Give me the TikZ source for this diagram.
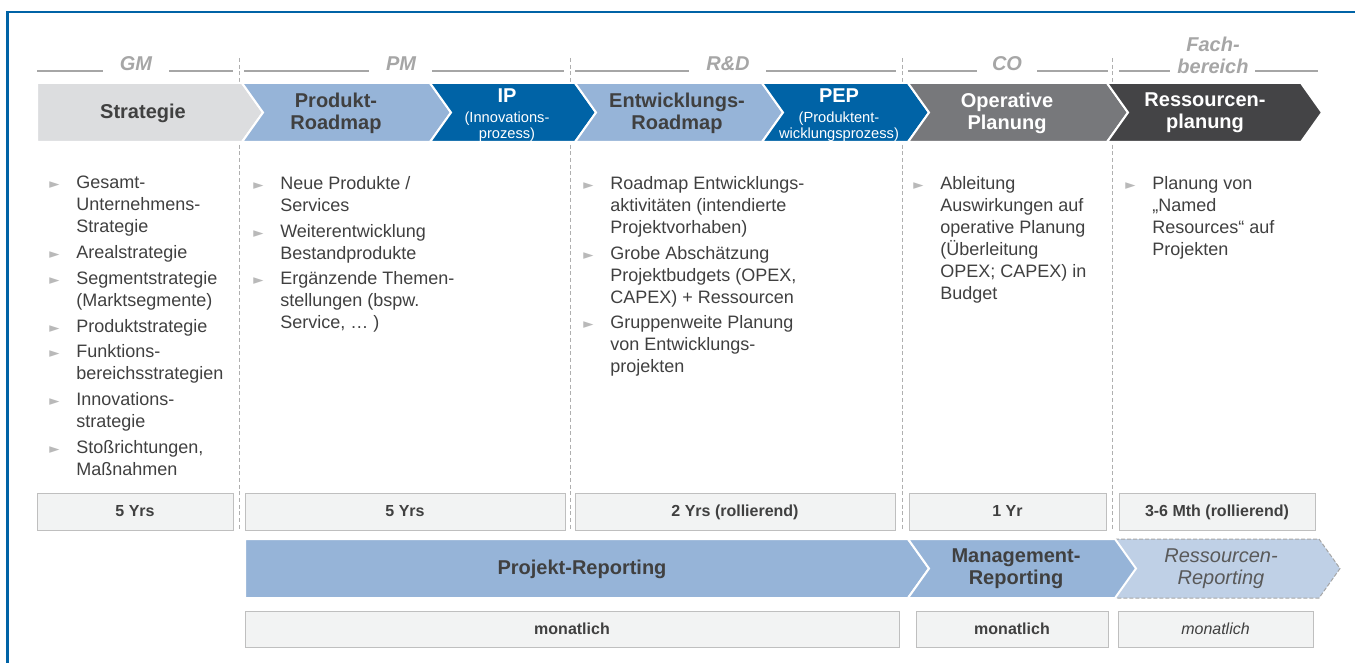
\documentclass[tikz,border=0pt]{standalone}
\usepackage{fontspec}
\setmainfont{Liberation Sans}
\newfontfamily\symfont{DejaVu Sans}
\usepackage{xcolor}
\usetikzlibrary{positioning,fit}
\definecolor{frameblue}{RGB}{0,99,166}
\definecolor{darkblue}{RGB}{0,99,166}
\definecolor{lightblue}{RGB}{150,180,216}
\definecolor{paleblue}{RGB}{191,208,230}
\definecolor{stratgray}{RGB}{220,221,223}
\definecolor{opgray}{RGB}{119,120,123}
\definecolor{resgray}{RGB}{68,68,70}
\definecolor{txtgray}{RGB}{64,64,64}
\definecolor{midtxt}{RGB}{89,89,89}
\definecolor{grpgray}{RGB}{166,166,166}
\definecolor{bulgray}{RGB}{185,185,185}
\definecolor{boxfill}{RGB}{242,243,243}
\definecolor{boxline}{RGB}{191,191,191}
\definecolor{sepgray}{RGB}{175,175,175}
\tikzset{
  chev/.style    = {fill=#1, draw=white, line width=1.5pt},
  chevtxt/.style = {align=center, inner sep=0, font=\fontsize{15}{16.5}\selectfont\bfseries, text=txtgray},
  chevwht/.style = {chevtxt, text=white},
  grpline/.style = {draw=grpgray, line width=2pt},
  grplbl/.style  = {align=center, inner sep=0, font=\fontsize{15}{16.5}\selectfont\bfseries\itshape, text=grpgray},
  colsep/.style  = {draw=sepgray, dash pattern=on 3pt off 2pt, line width=0.5pt},
  col/.style     = {anchor=north west, align=left, inner sep=0, font=\fontsize{13.5}{16.5}\selectfont, text=txtgray},
  yrbox/.style   = {draw=boxline, fill=boxfill, inner sep=0},
  yrtxt/.style   = {inner sep=0, text height=8.5pt, text depth=0.5pt, font=\fontsize{12}{14}\selectfont\bfseries, text=txtgray},
}
% chevron: style, left x, right x, top y, bottom y, depth of left notch
\newcommand{\chevpath}[6]{%
  \path[#1] (#2,#4) -- (#3,#4) -- ({#3+21},{(#4+#5)/2}) -- (#3,#5) -- (#2,#5) -- ({#2+#6},{(#4+#5)/2}) -- cycle;}
\newcommand{\bul}{\llap{{\color{bulgray}\symfont\fontsize{10}{10}\selectfont ►}\hspace{12.5pt}}}
\newcommand{\subtxt}[1]{{\fontsize{11}{12}\selectfont\mdseries #1}}

\begin{document}
\begin{tikzpicture}[x=0.75pt, y=-0.75pt]
  \useasboundingbox (0,0) rectangle (1355,663);
  \draw[frameblue, line width=2pt] (7.5,663) -- (7.5,12) -- (1355,12);

  % column separators
  \foreach \x in {239,570,902,1112}
    \draw[colsep] (\x,58) -- (\x,530);

  % responsibilities
  \foreach \a/\b in {37/103,169/233,244/369,432/564,575/689,766/896,908/977,1037/1108,1119/1170,1255/1318}
    \draw[grpline] (\a,71) -- (\b,71);
  \node[grplbl] (gm) at (136,63.5) {GM};
  \node[grplbl] (pm) at (401,63.5) {PM};
  \node[grplbl] (rd) at (728,63.5) {R\&D};
  \node[grplbl] (co) at (1007,63.5) {CO};
  \node[grplbl] (fb) at (1213,55) {Fach-\\bereich};

  % planning chain
  \chevpath{chev=stratgray}{37}{242}{83}{142}{0}
  \chevpath{chev=lightblue}{242}{430}{83}{142}{21}
  \chevpath{chev=darkblue}{430}{575}{83}{142}{21}
  \chevpath{chev=lightblue}{575}{762}{83}{142}{21}
  \chevpath{chev=darkblue}{762}{908}{83}{142}{21}
  \chevpath{chev=opgray}{908}{1107}{83}{142}{21}
  \chevpath{chev=resgray}{1107}{1301}{83}{142}{21}
  \node[chevtxt] (strat) at (143,113) {Strategie};
  \node[chevtxt] (prm) at (336,113) {Produkt-\\Roadmap};
  \node[chevwht] (ip) at (507,115) {IP\\[-1.5pt]\subtxt{(Innovations-}\\[-4.5pt]\subtxt{prozess)}};
  \node[chevtxt] (erm) at (677,113) {Entwicklungs-\\Roadmap};
  \node[chevwht] (pep) at (839,115) {PEP\\[-1.5pt]\subtxt{(Produktent-}\\[-4.5pt]\subtxt{wicklungsprozess)}};
  \node[chevwht] (op) at (1007,113) {Operative\\Planung};
  \node[chevwht] (rp) at (1205,113) {Ressourcen-\\planung};

  % contents
  \node[col] (c1) at (76,176) {\bul Gesamt-\\Unternehmens-\\Strategie\\[2.8pt]
    \bul Arealstrategie\\[2.8pt]
    \bul Segmentstrategie\\(Marktsegmente)\\[2.8pt]
    \bul Produktstrategie\\[2.8pt]
    \bul Funktions-\\bereichsstrategien\\[2.8pt]
    \bul Innovations-\\strategie\\[2.8pt]
    \bul Stoßrichtungen,\\Maßnahmen};
  \node[col] (c2) at (280,176) {\bul Neue Produkte /\\Services\\[2.8pt]
    \bul Weiterentwicklung\\Bestandprodukte\\[2.8pt]
    \bul Ergänzende Themen-\\stellungen (bspw.\\Service, … )};
  \node[col] (c3) at (610,176) {\bul Roadmap Entwicklungs-\\aktivitäten (intendierte\\Projektvorhaben)\\[2.8pt]
    \bul Grobe Abschätzung\\Projektbudgets (OPEX,\\CAPEX) + Ressourcen\\[2.8pt]
    \bul Gruppenweite Planung\\von Entwicklungs-\\projekten};
  \node[col] (c4) at (940,176) {\bul Ableitung\\Auswirkungen auf\\operative Planung\\(Überleitung\\OPEX; CAPEX) in\\Budget};
  \node[col] (c5) at (1152,176) {\bul Planung von\\„Named\\Resources“ auf\\Projekten};

  % horizons
  \node[yrbox, fit={(37,493) (233,530)}, label={[yrtxt]center:5 Yrs}] (yr1) {};
  \node[yrbox, fit={(245,493) (565,530)}, label={[yrtxt]center:5 Yrs}] (yr2) {};
  \node[yrbox, fit={(575,493) (895,530)}, label={[yrtxt]center:2 Yrs (rollierend)}] (yr3) {};
  \node[yrbox, fit={(909,493) (1106,530)}, label={[yrtxt]center:1 Yr}] (yr4) {};
  \node[yrbox, fit={(1119,493) (1315,530)}, label={[yrtxt]center:3-6 Mth (rollierend)}] (yr5) {};

  % reporting
  \chevpath{chev=lightblue}{245}{908}{539}{598}{0}
  \chevpath{fill=paleblue, draw=grpgray, dash pattern=on 3pt off 1.5pt, line width=0.75pt}{1115}{1319}{539}{598}{21}
  \chevpath{chev=lightblue}{908}{1115}{539}{598}{21}
  \node[chevtxt] (prep) at (582,569) {Projekt-Reporting};
  \node[chevtxt] (mrep) at (1016,569) {Management-\\Reporting};
  \node[chevtxt, font=\fontsize{15}{16.5}\selectfont\itshape, text=midtxt] (rrep) at (1221,569) {Ressourcen-\\Reporting};

  \node[yrbox, fit={(245,611) (899,647)}, label={[yrtxt]center:monatlich}] (mo1) {};
  \node[yrbox, fit={(916,611) (1108,647)}, label={[yrtxt]center:monatlich}] (mo2) {};
  \node[yrbox, fit={(1118,611) (1313,647)}, label={[yrtxt, font=\fontsize{12}{14}\selectfont\itshape]center:monatlich}] (mo3) {};
\end{tikzpicture}
\end{document}
